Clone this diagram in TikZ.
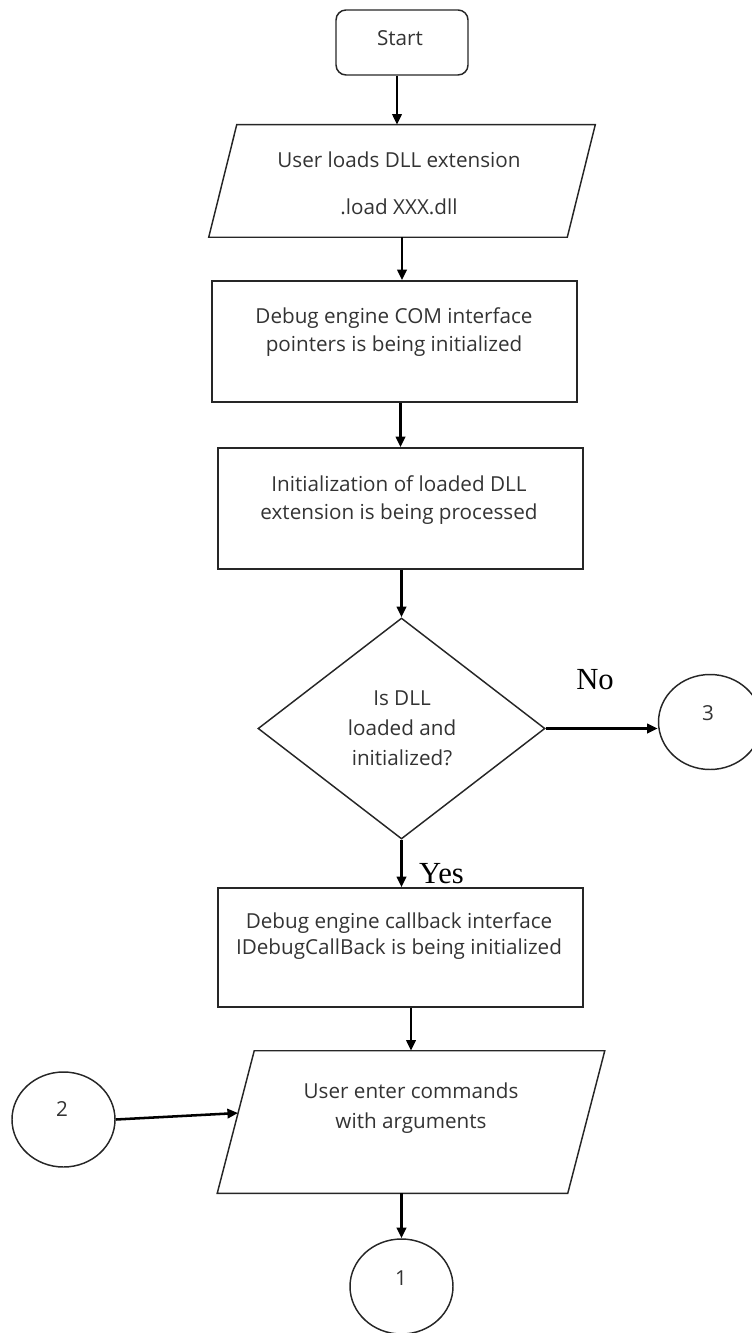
\documentclass[tikz,border=0pt]{standalone}
\usepackage{fontspec}
\setmainfont{Open Sans}
\newfontfamily\decisionfont{Liberation Serif}
\usetikzlibrary{shapes.geometric,calc,arrows.meta}
\begin{document}
\begin{tikzpicture}[x=0.75pt,y=-0.75pt,
  outline/.style={draw=black!85,line width=1.1pt},
  stepbox/.style={outline,rectangle,minimum width=273.75pt,minimum height=90.75pt,inner sep=0pt},
  iobody/.style={rectangle,inner sep=0pt},
  connector/.style={outline,ellipse,minimum width=77.25pt,minimum height=71.25pt,inner sep=0pt},
  txt/.style={align=center,text=black!80,font=\fontsize{15.5}{21}\selectfont,inner sep=0pt},
  yn/.style={font=\decisionfont\fontsize{23}{26}\selectfont,inner sep=0pt},
  arr/.style={line width=1.9pt,-{Triangle[length=8pt,width=7pt]}},
]
\useasboundingbox (0,0) rectangle (751,1333);

% start terminal
\node[outline,rectangle,rounded corners=7.5pt,minimum width=99pt,minimum height=48.75pt,inner sep=0pt] (start) at (402,42.5) {};
\node[txt] (tstart) at (400,38) {Start};

% input: load extension
\node[iobody,minimum width=268.5pt,minimum height=84pt] (p1) at (402,181) {};
\draw[outline] ($(p1.north west)+(14,0)$) -- ($(p1.north east)+(14,0)$)
  -- ($(p1.south east)+(-14,0)$) -- ($(p1.south west)+(-14,0)$) -- cycle;
\node[txt] (tp1) at (399,183) {User loads DLL extension\\[14pt].load XXX.dll};

% processing steps
\node[stepbox] (r1) at (394.5,341.5) {};
\node[txt] (tr1) at (394,332) {Debug engine COM interface\\pointers is being initialized};

\node[stepbox] (r2) at (400.5,508.5) {};
\node[txt] (tr2) at (399,500) {Initialization of loaded DLL\\extension is being processed};

% decision
\node[outline,diamond,minimum width=215.25pt,minimum height=165.75pt,inner sep=0pt] (dia) at (401.5,728.5) {};
\node[txt,font=\fontsize{15.5}{22.5}\selectfont] (tdia) at (402,728) {Is DLL\\loaded and\\initialized?};

\node[connector] (c3) at (710,722) {};
\node[txt] (t3) at (708,713) {3};

\node[stepbox,minimum height=89.25pt] (r3) at (400.5,947.5) {};
\node[txt,font=\fontsize{15.5}{19}\selectfont] (tr3) at (399,936) {Debug engine callback interface\\IDebugCallBack is being initialized};

% input: commands
\node[iobody,minimum width=262.5pt,minimum height=106.5pt] (p2) at (411,1122) {};
\coordinate (p2tl) at ($(p2.north west)+(18.5,0)$);
\coordinate (p2bl) at ($(p2.south west)+(-18.5,0)$);
\draw[outline] (p2tl) -- ($(p2.north east)+(18.5,0)$)
  -- ($(p2.south east)+(-18.5,0)$) -- (p2bl) -- cycle;
\node[txt,font=\fontsize{15.5}{22.5}\selectfont] (tp2) at (411,1108) {User enter commands\\with arguments};
\coordinate (p2in) at ($(p2bl)!0.563!(p2tl)$);

\node[connector] (c2) at (63.5,1119.5) {};
\node[txt] (t2) at (62,1109) {2};

\node[connector] (c1) at (401.5,1286.5) {};
\node[txt] (t1) at (401,1278) {1};

% labels of the decision
\node[yn] (lno) at (595,680) {No};
\node[yn] (lyes) at (441.5,874) {Yes};

% connectors
\draw[arr] ($(start.south)+(-5,0)$) -- ($(p1.north)+(-5,0)$);
\draw[arr] (p1.south) -- (p1.south |- r1.north);
\draw[arr] (r1.south -| r2.north) -- (r2.north);
\draw[arr] (r2.south -| dia.north) -- (dia.north);
\draw[arr] (dia.east) -- (dia.east -| c3.west);
\draw[arr] (dia.south) -- (dia.south |- r3.north);
\draw[arr] (r3.south -| p2.north) -- (p2.north);
\draw[arr] (p2.south -| c1.north) -- (c1.north);
\draw[arr] (c2.east) -- (p2in);
\end{tikzpicture}
\end{document}
